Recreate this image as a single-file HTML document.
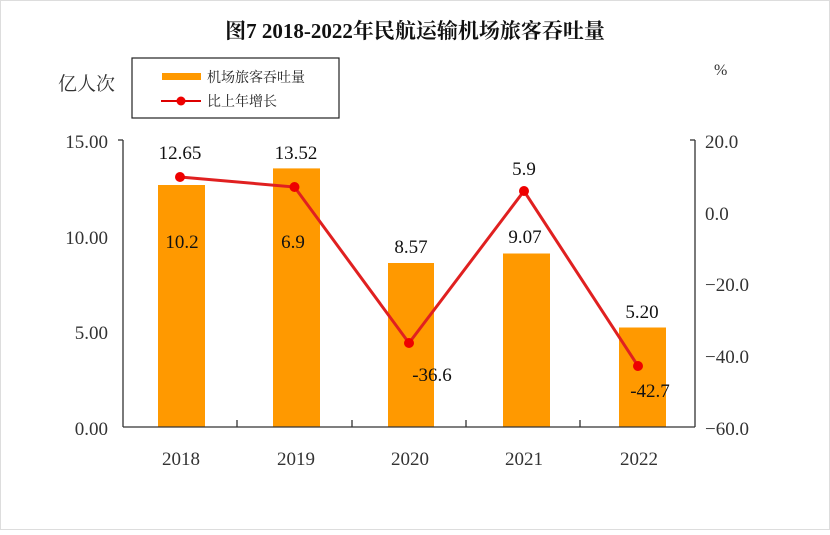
<!DOCTYPE html>
<html><head><meta charset="utf-8"><style>
body{margin:0;background:#fff;}
svg text{font-family:"Liberation Serif","Noto Serif CJK SC",serif;}
</style></head><body>
<svg width="830" height="530" viewBox="0 0 830 530" xmlns="http://www.w3.org/2000/svg">
<rect width="830" height="530" fill="#fff"/>
<rect x="0.5" y="0.5" width="829" height="529" fill="none" stroke="#ddd"/>
<text x="415" y="38" text-anchor="middle" font-size="21" font-weight="bold" fill="#111">图7 2018-2022年民航运输机场旅客吞吐量</text>
<text x="58" y="90" font-size="19" fill="#333">亿人次</text>
<text x="714" y="75" font-size="16" fill="#333">%</text>
<rect x="132" y="58" width="207" height="60" fill="#fff" stroke="#222" stroke-width="1.2"/>
<rect x="162" y="73" width="39" height="7" fill="#f90"/>
<text x="207" y="82" font-size="14" fill="#222">机场旅客吞吐量</text>
<line x1="161" y1="101" x2="201" y2="101" stroke="#d00" stroke-width="2"/>
<circle cx="181" cy="101" r="4.5" fill="#e00"/>
<text x="207" y="106" font-size="14" fill="#222">比上年增长</text>
<g fill="#f90">
<rect x="158" y="185" width="47" height="242"/>
<rect x="273" y="168.4" width="47" height="258.6"/>
<rect x="388" y="263" width="46" height="164"/>
<rect x="503" y="253.5" width="47" height="173.5"/>
<rect x="619" y="327.5" width="47" height="99.5"/>
</g>
<g stroke="#333" stroke-width="1.3" fill="none">
<line x1="123" y1="140" x2="123" y2="427"/>
<line x1="118" y1="140" x2="123" y2="140"/>
<line x1="695" y1="140" x2="695" y2="427"/>
<line x1="695" y1="140" x2="690" y2="140"/>
<line x1="123" y1="427" x2="695" y2="427"/>
<line x1="237" y1="427" x2="237" y2="420"/>
<line x1="352" y1="427" x2="352" y2="420"/>
<line x1="466" y1="427" x2="466" y2="420"/>
<line x1="580" y1="427" x2="580" y2="420"/>
</g>
<g font-size="19" fill="#333" text-anchor="end">
<text x="108" y="148">15.00</text>
<text x="108" y="244">10.00</text>
<text x="108" y="339">5.00</text>
<text x="108" y="435">0.00</text>
</g>
<g font-size="19" fill="#333">
<text x="705" y="148">20.0</text>
<text x="705" y="220">0.0</text>
<text x="705" y="291">−20.0</text>
<text x="705" y="363">−40.0</text>
<text x="705" y="435">−60.0</text>
</g>
<g font-size="19" fill="#333" text-anchor="middle">
<text x="181" y="465">2018</text>
<text x="296" y="465">2019</text>
<text x="410" y="465">2020</text>
<text x="524" y="465">2021</text>
<text x="639" y="465">2022</text>
</g>
<polyline points="180,177 294.5,187 409,343 524,191 638,366" fill="none" stroke="#e02020" stroke-width="3"/>
<g fill="#e00">
<circle cx="180" cy="177" r="5"/><circle cx="294.5" cy="187" r="5"/><circle cx="409" cy="343" r="5"/><circle cx="524" cy="191" r="5"/><circle cx="638" cy="366" r="5"/>
</g>
<g font-size="19" fill="#111" text-anchor="middle">
<text x="180" y="159">12.65</text>
<text x="296" y="159">13.52</text>
<text x="411" y="253">8.57</text>
<text x="525" y="243">9.07</text>
<text x="642" y="318">5.20</text>
<text x="182" y="248">10.2</text>
<text x="293" y="248">6.9</text>
<text x="432" y="381">-36.6</text>
<text x="524" y="175">5.9</text>
<text x="650" y="397">-42.7</text>
</g>
</svg>
</body></html>
